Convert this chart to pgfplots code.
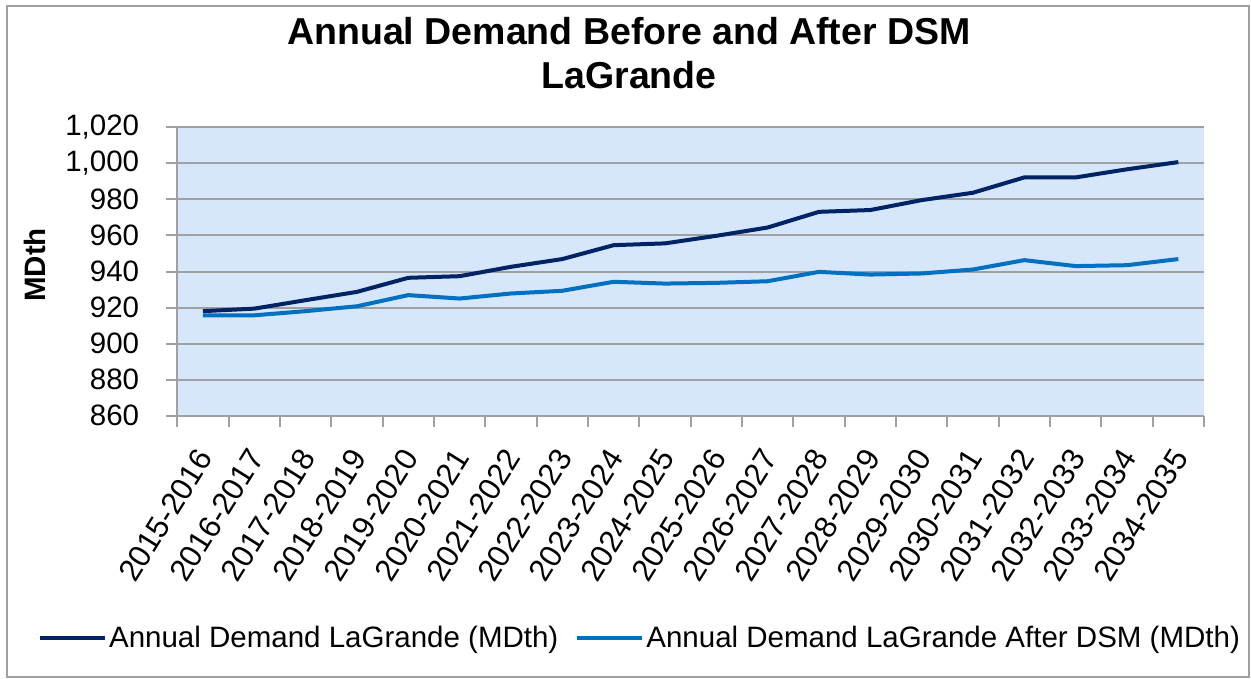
\documentclass[border=0pt]{standalone}
\usepackage{fontspec}
\setmainfont{Liberation Sans}
\usepackage{pgfplots}
\pgfplotsset{compat=1.18}
\definecolor{darkline}{RGB}{0,36,99}
\definecolor{lightline}{RGB}{0,112,192}
\definecolor{plotbg}{RGB}{214,230,251}
\definecolor{gridgray}{RGB}{160,160,160}
\begin{document}
\begin{tikzpicture}[x=1pt,y=1pt]
\path[use as bounding box] (0,0) rectangle (1251,-679);
\draw[gridgray, line width=1.5pt] (7,-6) rectangle (1249,-677);
\node[anchor=base, font=\bfseries\fontsize{37.5}{45}\selectfont] at (629,-45) {Annual Demand Before and After DSM};
\node[anchor=base, font=\bfseries\fontsize{37.5}{45}\selectfont] at (629,-89) {LaGrande};
\node[rotate=90, font=\bfseries\fontsize{29.5}{35}\selectfont] at (35,-265) {MDth};
\begin{axis}[
  at={(177.3pt,-415.7pt)}, anchor=south west,
  scale only axis, width=1026.7pt, height=288.4pt,
  xmin=-0.5, xmax=19.5, ymin=860, ymax=1020,
  axis x line*=bottom, axis y line*=left,
  axis line style={draw=gridgray, line width=2pt, -},
  axis background/.style={fill=plotbg},
  ymajorgrids, grid style={draw=gridgray, line width=2pt},
  tick align=outside, major tick length=11pt,
  tick style={draw=gridgray, line width=2pt},
  xtick={-0.5,0.5,...,19.5},
  x tick label as interval,
  xticklabels={2015-2016,2016-2017,2017-2018,2018-2019,2019-2020,2020-2021,2021-2022,2022-2023,2023-2024,2024-2025,2025-2026,2026-2027,2027-2028,2028-2029,2029-2030,2030-2031,2031-2032,2032-2033,2033-2034,2034-2035},
  xticklabel style={font=\fontsize{31}{36}\selectfont, yshift=-24pt, xshift=3pt, rotate=58, anchor=east, inner sep=2pt},
  ytick={860,880,...,1020},
  yticklabel style={font=\fontsize{29.5}{35}\selectfont, inner sep=0pt, xshift=-27pt},
  /pgf/number format/.cd, 1000 sep={,}, assume math mode=true,
  /pgfplots/.cd,
  legend columns=2,
  legend style={at={(axis description cs:0.4507,-0.771)}, anchor=center, draw=none, fill=none,
    font=\fontsize{29.5}{35}\selectfont, nodes={inner sep=2.5pt},
    /tikz/every even column/.append style={column sep=14pt}},
  legend image code/.code={\draw[#1] (0pt,0pt) -- (65pt,0pt);},
]
\addplot[darkline, line width=4pt] coordinates {
(0,918.0) (1,919.4) (2,924.1) (3,928.7) (4,936.5) (5,937.4) (6,942.6) (7,946.9) (8,954.6) (9,955.6)
(10,959.8) (11,964.4) (12,973.1) (13,974.1) (14,979.6) (15,983.7) (16,992.2) (17,992.2) (18,996.7) (19,1000.7)};
\addlegendentry{Annual Demand LaGrande (MDth)}
\addplot[lightline, line width=4pt] coordinates {
(0,915.7) (1,915.7) (2,918.0) (3,920.7) (4,926.9) (5,925.0) (6,927.8) (7,929.3) (8,934.3) (9,933.3)
(10,933.7) (11,934.6) (12,939.8) (13,938.3) (14,938.9) (15,941.1) (16,946.3) (17,943.0) (18,943.5) (19,946.9)};
\addlegendentry{Annual Demand LaGrande After DSM (MDth)}
\end{axis}
\end{tikzpicture}
\end{document}
